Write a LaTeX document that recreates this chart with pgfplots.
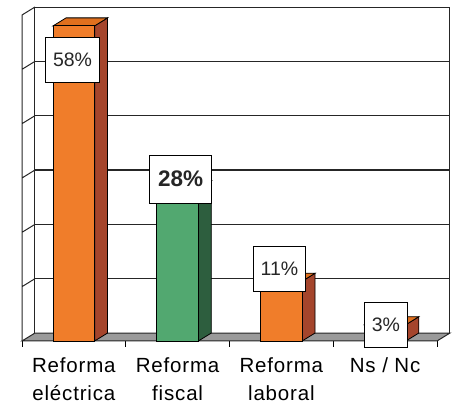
\documentclass[border=0pt]{standalone}
\usepackage{pgfplots}
\pgfplotsset{compat=1.18}
\usepackage{fontspec}
\setmainfont{Liberation Sans}
\definecolor{barorange}{HTML}{F07D2A}
\definecolor{toporange}{HTML}{E0701E}
\definecolor{sideorange}{HTML}{A5452C}
\definecolor{bargreen}{HTML}{52A870}
\definecolor{sidegreen}{HTML}{2D5E3E}
\definecolor{topgreen}{HTML}{469A62}
\definecolor{floorgray}{HTML}{9A9A9A}
\begin{document}
\begin{tikzpicture}
\begin{axis}[
    width=415pt, height=326pt,
    scale only axis,
    clip=false,
    xmin=-0.5, xmax=3.5,
    ymin=0, ymax=60,
    axis line style={draw=none},
    ytick=\empty,
    xtick={0,1,2,3},
    xticklabels={{Reforma\\eléctrica},{Reforma\\fiscal},{Reforma\\laboral},{Ns / Nc}},
    xtick pos=bottom,
    major tick length=0pt,
    xticklabel style={font=\fontsize{20.5}{28}\selectfont\addfontfeature{LetterSpace=4}, align=center, anchor=north, inner sep=0pt, yshift=-16pt},
    extra x ticks={-0.5,0.5,1.5,2.5,3.5},
    extra x tick labels={},
    extra x tick style={major tick length=6pt, tick align=outside, tick style={black, line width=0.9pt}},
    unbounded coords=jump,
]
% back wall
\addplot[draw=black!85, fill=white, line width=1pt] coordinates {(-0.375,1.47) (3.625,1.47) (3.625,61.47) (-0.375,61.47)} -- cycle;
% back wall grid
\addplot[black!85, line width=1.1pt] coordinates {
 (-0.375,11.47) (3.625,11.47) (0,nan)
 (-0.375,21.47) (3.625,21.47) (0,nan)
 (-0.375,31.47) (3.625,31.47) (0,nan)
 (-0.375,41.47) (3.625,41.47) (0,nan)
 (-0.375,51.47) (3.625,51.47)
};
% left wall
\addplot[black!85, line width=1pt] coordinates {
 (-0.5,0) (-0.5,60) (-0.375,61.47) (0,nan)
 (-0.5,10) (-0.375,11.47) (0,nan)
 (-0.5,20) (-0.375,21.47) (0,nan)
 (-0.5,30) (-0.375,31.47) (0,nan)
 (-0.5,40) (-0.375,41.47) (0,nan)
 (-0.5,50) (-0.375,51.47)
};
% floor
\addplot[draw=black!85, fill=floorgray, line width=1pt] coordinates {(-0.5,0) (3.5,0) (3.625,1.47) (-0.375,1.47)} -- cycle;

% bar 1: Reforma electrica, 58
\addplot[draw=black, fill=sideorange, line width=0.8pt] coordinates {(0.2,0) (0.325,1.47) (0.325,59.47) (0.2,58)} -- cycle;
\addplot[draw=black, fill=toporange, line width=0.8pt] coordinates {(-0.2,58) (0.2,58) (0.325,59.47) (-0.075,59.47)} -- cycle;
% bar 2: Reforma fiscal, 28
\addplot[draw=black, fill=sidegreen, line width=0.8pt] coordinates {(1.2,0) (1.325,1.47) (1.325,29.47) (1.2,28)} -- cycle;
\addplot[draw=black, fill=topgreen, line width=0.8pt] coordinates {(0.8,28) (1.2,28) (1.325,29.47) (0.925,29.47)} -- cycle;
% bar 3: Reforma laboral, 11
\addplot[draw=black, fill=sideorange, line width=0.8pt] coordinates {(2.2,0) (2.325,1.47) (2.325,12.47) (2.2,11)} -- cycle;
\addplot[draw=black, fill=toporange, line width=0.8pt] coordinates {(1.8,11) (2.2,11) (2.325,12.47) (1.925,12.47)} -- cycle;
% bar 4: Ns / Nc, 3
\addplot[draw=black, fill=sideorange, line width=0.8pt] coordinates {(3.2,0) (3.325,1.47) (3.325,4.47) (3.2,3)} -- cycle;
\addplot[draw=black, fill=toporange, line width=0.8pt] coordinates {(2.8,3) (3.2,3) (3.325,4.47) (2.925,4.47)} -- cycle;
% front faces
\addplot[ybar, bar width=41.5pt, bar shift=0pt, draw=black, fill=barorange, line width=0.8pt] coordinates {(0,58) (2,11) (3,3)};
\addplot[ybar, bar width=41.5pt, bar shift=0pt, draw=black, fill=bargreen, line width=0.8pt] coordinates {(1,28)};

% value labels
\addplot[draw=none, mark=none, nodes near coords, point meta=explicit symbolic,
  every node near coord/.style={anchor=center, draw=black, fill=white, line width=0.9pt,
    font=\fontsize{19.5}{19.5}\selectfont, inner xsep=7.5pt, minimum height=45pt, text=black!85}]
  coordinates {(-0.013,51.7)[58\%] (1.982,13.2)[11\%] (3.008,3.0)[3\%]};
\addplot[draw=none, mark=none, nodes near coords, point meta=explicit symbolic,
  every node near coord/.style={anchor=center, draw=black, fill=white, line width=0.9pt,
    font=\fontsize{22.5}{22.5}\selectfont\bfseries, inner xsep=8.5pt, minimum height=48pt, text=black!85}]
  coordinates {(1.028,29.8)[28\%]};
\end{axis}
\pgfresetboundingbox
\useasboundingbox (-22pt,-66pt) rectangle (434pt,341pt);
\end{tikzpicture}
\end{document}
